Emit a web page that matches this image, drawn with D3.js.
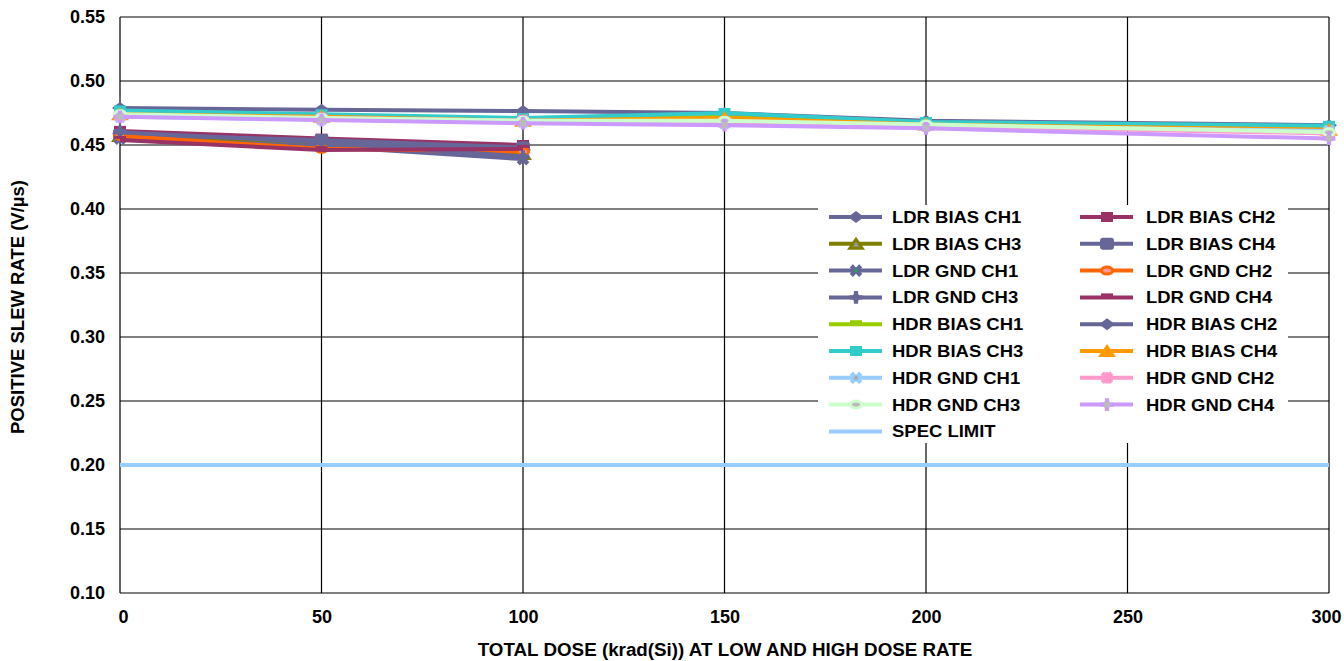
<!DOCTYPE html>
<html><head><meta charset="utf-8">
<script src="https://cdn.jsdelivr.net/npm/d3@7"></script>
<style>body{margin:0;background:#fff}svg{display:block}text{font-family:"Liberation Sans",Arial,sans-serif;font-weight:bold}</style>
</head><body><svg id="c" width="1344" height="661"></svg>
<script>
const ldrDoses = [0, 50, 100];
const hdrDoses = [0, 50, 100, 150, 200, 300];
const seriesNames = ["LDR BIAS CH1","LDR BIAS CH2","LDR BIAS CH3","LDR BIAS CH4","LDR GND CH1","LDR GND CH2","LDR GND CH3","LDR GND CH4","HDR BIAS CH1","HDR BIAS CH2","HDR BIAS CH3","HDR BIAS CH4","HDR GND CH1","HDR GND CH2","HDR GND CH3","HDR GND CH4"];
const ldrBiasCh1 = [0.459, 0.452, 0.446];
const ldrBiasCh2 = [0.461, 0.455, 0.450];
const ldrBiasCh3 = [0.457, 0.450, 0.443];
const ldrBiasCh4 = [0.458, 0.454, 0.448];
const ldrGndCh1 = [0.455, 0.449, 0.439];
const ldrGndCh2 = [0.457, 0.447, 0.445];
const ldrGndCh3 = [0.460, 0.452, 0.441];
const ldrGndCh4 = [0.454, 0.446, 0.447];
const hdrBiasCh1 = [0.475, 0.472, 0.470, 0.472, 0.466, 0.463];
const hdrBiasCh2 = [0.479, 0.4775, 0.4765, 0.475, 0.469, 0.4655];
const hdrBiasCh3 = [0.477, 0.474, 0.471, 0.475, 0.468, 0.465];
const hdrBiasCh4 = [0.474, 0.472, 0.469, 0.471, 0.466, 0.462];
const hdrGndCh1 = [0.472, 0.470, 0.468, 0.467, 0.465, 0.461];
const hdrGndCh2 = [0.473, 0.471, 0.469, 0.468, 0.465, 0.459];
const hdrGndCh3 = [0.474, 0.471, 0.469, 0.469, 0.466, 0.460];
const hdrGndCh4 = [0.472, 0.4695, 0.467, 0.4655, 0.463, 0.455];
const specLimit = 0.20;
const xTicks = [0, 50, 100, 150, 200, 250, 300];
const yTicks = [0.10, 0.15, 0.20, 0.25, 0.30, 0.35, 0.40, 0.45, 0.50, 0.55];

const values = [ldrBiasCh1, ldrBiasCh2, ldrBiasCh3, ldrBiasCh4, ldrGndCh1, ldrGndCh2, ldrGndCh3, ldrGndCh4,
  hdrBiasCh1, hdrBiasCh2, hdrBiasCh3, hdrBiasCh4, hdrGndCh1, hdrGndCh2, hdrGndCh3, hdrGndCh4];
const colors = ["#666699","#993366","#808000","#666699","#666699","#FF6600","#666699","#993366",
  "#99CC00","#666699","#33CCCC","#FF9900","#99CCFF","#FF99CC","#CCFFCC","#CC99FF"];
const markers = ["diamond","square","triangle","boxcross","x","circle","plus","dash",
  "dash","diamond","square","triangle","x","star","circle","plus"];
const inner = {triangle:"#999999",x:"#339966",circle:"#FF9999",plus:"#666699"};
const innerHdr = {x:"#aaaaaa",circle:"#bbbbbb",plus:"#bbbbbb",star:"#ffccdd"};

const svg = d3.select("#c");
const m = {l:120, r:1329, t:17, b:593};
const x = d3.scaleLinear().domain([0,300]).range([m.l, m.r]);
const y = d3.scaleLinear().domain([0.10,0.55]).range([m.b, m.t]);

// grid
const g = svg.append("g");
g.selectAll(".gx").data(xTicks).enter().append("line")
  .attr("x1",d=>x(d)).attr("x2",d=>x(d)).attr("y1",m.t).attr("y2",m.b)
  .attr("stroke","#000").attr("stroke-width",1.2);
g.selectAll(".gy").data(yTicks).enter().append("line")
  .attr("x1",m.l).attr("x2",m.r).attr("y1",d=>y(d)).attr("y2",d=>y(d))
  .attr("stroke","#000").attr("stroke-width",1.2);

// axes labels
const xa = svg.append("g").attr("transform",`translate(0,${m.b})`)
  .call(d3.axisBottom(x).tickValues(xTicks).tickSize(0).tickPadding(17).tickFormat(d3.format("d")));
xa.select(".domain").remove();
xa.selectAll("text").attr("font-size",18).attr("fill","#000").attr("font-family","Liberation Sans, Arial").attr("font-weight","bold")
  .attr("dx",d=>d===0?3:(d===300?-3:0));
const ya = svg.append("g").attr("transform",`translate(${m.l},0)`)
  .call(d3.axisLeft(y).tickValues(yTicks).tickSize(0).tickPadding(15).tickFormat(d3.format(".2f")));
ya.select(".domain").remove();
ya.selectAll("text").attr("font-size",18).attr("fill","#000").attr("font-family","Liberation Sans, Arial").attr("font-weight","bold");

svg.append("text").attr("x",725).attr("y",656).attr("text-anchor","middle").attr("font-size",18.8)
  .text("TOTAL DOSE (krad(Si)) AT LOW AND HIGH DOSE RATE");
svg.append("text").attr("transform","translate(24,307) rotate(-90)").attr("text-anchor","middle").attr("font-size",18.5)
  .text("POSITIVE SLEW RATE (V/µs)");

function drawMarker(sel, type, color, i, cx, cy, s) {
  const hdr = i >= 8;
  const inn = hdr ? (innerHdr[type]||color) : (inner[type]||color);
  const k = s;
  if (type==="diamond") sel.append("path").attr("d",`M${cx-8},${cy}L${cx},${cy-6}L${cx+8},${cy}L${cx},${cy+6}Z`).attr("fill",color);
  else if (type==="square") sel.append("rect").attr("x",cx-6*k).attr("y",cy-5*k).attr("width",12*k).attr("height",10*k).attr("fill",color);
  else if (type==="triangle") { sel.append("path").attr("d",`M${cx-9},${cy+6}L${cx},${cy-7}L${cx+9},${cy+6}Z`).attr("fill",color);
    if(!hdr) sel.append("path").attr("d",`M${cx-3},${cy+3}L${cx},${cy-2}L${cx+3},${cy+3}Z`).attr("fill",inn); }
  else if (type==="boxcross") sel.append("rect").attr("x",cx-7*k).attr("y",cy-6*k).attr("width",14*k).attr("height",12*k).attr("rx",3).attr("fill",color);
  else if (type==="x") { sel.append("path").attr("d",d3.symbol(d3.symbolCross, 100*k)()).attr("transform",`translate(${cx},${cy}) rotate(45)`).attr("fill",color);
    sel.append("circle").attr("cx",cx).attr("cy",cy).attr("r",2*k).attr("fill",inn); }
  else if (type==="circle") { sel.append("ellipse").attr("cx",cx).attr("cy",cy).attr("rx",7*k).attr("ry",5*k).attr("fill",color);
    sel.append("ellipse").attr("cx",cx).attr("cy",cy).attr("rx",4*k).attr("ry",2*k).attr("fill",inn); }
  else if (type==="plus") { sel.append("path").attr("d",d3.symbol(d3.symbolCross, 90*k)()).attr("transform",`translate(${cx},${cy})`).attr("fill",color);
    sel.append("rect").attr("x",cx-3*k).attr("y",cy-3*k).attr("width",6*k).attr("height",6*k).attr("fill",hdr?inn:color); }
  else if (type==="dash") sel.append("rect").attr("x",cx-6*k).attr("y",cy-4).attr("width",12*k).attr("height",3).attr("fill",color);
  else if (type==="star") { sel.append("path").attr("d",d3.symbol(d3.symbolCross, 100*k)()).attr("transform",`translate(${cx},${cy}) rotate(45)`).attr("fill",color);
    sel.append("path").attr("d",d3.symbol(d3.symbolCross, 70*k)()).attr("transform",`translate(${cx},${cy})`).attr("fill",color); }
}

const line = d3.line().x(d=>x(d[0])).y(d=>y(d[1]));
const plot = svg.append("g");
values.forEach((vals,i)=>{
  const doses = i < 8 ? ldrDoses : hdrDoses;
  const pts = vals.map((v,j)=>[doses[j], v]);
  plot.append("path").datum(pts).attr("d",line).attr("fill","none").attr("stroke",colors[i]).attr("stroke-width",4).attr("stroke-linejoin","round");
  pts.forEach(p=>drawMarker(plot, markers[i], colors[i], i, x(p[0]), y(p[1]), 1));
});
// spec limit
plot.append("line").attr("x1",m.l).attr("x2",m.r).attr("y1",y(specLimit)).attr("y2",y(specLimit)).attr("stroke","#99CCFF").attr("stroke-width",4);

// legend
const lg = svg.append("g");
lg.append("rect").attr("x",818).attr("y",205).attr("width",470).attr("height",238).attr("fill","#fff");
const legItems = seriesNames.map((n,i)=>({n, c:colors[i], mk:markers[i], i}));
const leftCol = [0,2,4,6,8,10,12,14].map(i=>legItems[i]);
leftCol.push({n:"SPEC LIMIT", c:"#99CCFF", mk:null, i:16});
const rightCol = [1,3,5,7,9,11,13,15].map(i=>legItems[i]);
const rowY = d3.range(9).map(r=>217 + r*26.8);
function legendCol(items, x0, tx) {
  items.forEach((it,r)=>{
    const yy = rowY[r];
    lg.append("line").attr("x1",x0).attr("x2",x0+53).attr("y1",yy).attr("y2",yy).attr("stroke",it.c).attr("stroke-width",4);
    if (it.mk) drawMarker(lg, it.mk, it.c, it.i, x0+27, yy, 1);
    lg.append("text").attr("transform",`translate(${tx},${yy+6}) scale(1.12,1)`).attr("font-size",16.5).text(it.n);
  });
}
legendCol(leftCol, 829, 892);
legendCol(rightCol, 1080, 1146);
</script></body></html>
